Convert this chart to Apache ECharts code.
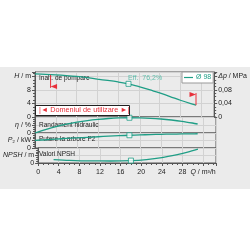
<!DOCTYPE html>
<html><head><meta charset="utf-8">
<script src="https://cdn.jsdelivr.net/npm/echarts@6/dist/echarts.min.js"></script>
<style>html,body{margin:0;padding:0;background:#fff}#c{width:250px;height:250px}</style>
</head><body><div id="c"></div>
<script>
// ---- data ----
const flowQ   = [0, 2, 4, 6, 8, 10, 12, 14, 16, 18, 20, 22, 24, 26, 28, 30, 31];
const headH   = [12.75, 12.62, 12.45, 12.25, 12.0, 11.65, 11.2, 10.8, 10.35, 9.8, 9.0, 8.1, 7.1, 6.05, 4.95, 3.95, 3.5];
const effEta  = [0, 17, 32, 44, 54, 62, 68, 72.5, 75.3, 76.2, 75.5, 73.5, 70, 65, 58.5, 50, 45];
const powerP2 = [0.82, 0.88, 0.95, 1.02, 1.08, 1.14, 1.2, 1.26, 1.31, 1.36, 1.4, 1.43, 1.46, 1.48, 1.5, 1.51, 1.52];
const npshFlow = [3, 6, 10, 14, 18, 21, 24, 27, 29, 31];
const npshM    = [2.3, 1.8, 1.4, 1.35, 1.6, 2.3, 3.6, 5.6, 7.2, 9.2];
const bepFlow = 18;
const bepLabel = 'Eff.  76,2%';
const rangeFlow = [3, 31];
const rangePoleFrom = [12.45, 3.5];
const rangePoleTo   = [8.6, 7.1];
const seriesName = 'Ø 98';
const captions = ['Inalt. de pompare', 'Randament hidraulic', 'Putere la arbore P2', 'Valori NPSH'];
const domainText = 'Domeniul de utilizare';

// ---- chart ----
const TEAL = '#1f9e86', RED = '#e8303a', FONT = 'Liberation Sans, Arial, sans-serif';
const zip = (a, b) => a.map((v, i) => [v, b[i]]);
const bi = flowQ.indexOf(bepFlow), ni = npshFlow.indexOf(bepFlow);
const chart = echarts.init(document.getElementById('c'));

const panels = [{top: 72, height: 45}, {top: 117, height: 16}, {top: 133, height: 15}, {top: 148, height: 15}];
const grid = panels.map(p => ({left: 35, right: 34, top: p.top, height: p.height, show: true,
  borderColor: '#555', borderWidth: 1, backgroundColor: 'transparent'}));
const rich = {i: {fontStyle: 'italic', fontSize: 7, color: '#222', fontFamily: FONT}};
const lbl = {fontSize: 7, color: '#222', fontFamily: FONT, rich};

const xAxis = panels.map((p, i) => ({
  type: 'value', gridIndex: i, min: 0, max: 34.5, interval: 4,
  splitLine: {show: true, lineStyle: {color: '#d2d2d2', width: 1}},
  axisLine: {show: i === 3, lineStyle: {color: '#555'}},
  axisTick: {show: i === 3, length: 3, lineStyle: {color: '#555'}},
  minorTick: {show: i === 3, splitNumber: 4, length: 2, lineStyle: {color: '#555'}},
  axisLabel: Object.assign({show: i === 3, margin: 6, showMaxLabel: false,
    formatter: v => v === 32 ? '{i|Q} / m³/h' : (v > 32 ? '' : String(v))}, lbl)
}));

function leftY(gi, max, interval, labelAt, name) {
  return {type: 'value', gridIndex: gi, position: 'left', min: 0, max, interval,
    axisLine: {show: true, lineStyle: {color: '#555'}},
    axisTick: {show: true, length: 3, lineStyle: {color: '#555'}},
    minorTick: {show: true, splitNumber: 4, length: 2, lineStyle: {color: '#555'}},
    splitLine: {show: true, lineStyle: {color: '#d2d2d2'}},
    axisLabel: Object.assign({margin: 4, showMaxLabel: false,
      formatter: v => Math.abs(v - labelAt) < 1e-6 ? name : (v === 0 ? '0' : (v > labelAt ? '' : String(v)))}, lbl)};
}
const yAxis = [
  leftY(0, 13.3, 4, 12, '{i|H} / m'),
  {type: 'value', gridIndex: 0, position: 'right', min: 0, max: 0.133, interval: 0.04,
    axisLine: {show: true, lineStyle: {color: '#555'}},
    axisTick: {show: true, length: 3, lineStyle: {color: '#555'}},
    minorTick: {show: true, splitNumber: 4, length: 2, lineStyle: {color: '#555'}},
    splitLine: {show: false},
    axisLabel: Object.assign({margin: 4, showMaxLabel: false,
      formatter: v => Math.abs(v - 0.12) < 1e-6 ? '{i|Δp} / MPa' : (v === 0 ? '0' : (v > 0.12 ? '' : v.toFixed(2).replace('.', ',')))}, lbl)},
  leftY(1, 80, 40, 40, '{i|η} / %'),
  leftY(2, 1.6, 0.8, 0.8, '{i|P}₂ / kW'),
  leftY(3, 10, 5, 5, '{i|NPSH} / m')
];

const lineS = (name, xi, yi, data, w) => ({type: 'line', name, xAxisIndex: xi, yAxisIndex: yi, data,
  symbol: 'none', smooth: 0.3, lineStyle: {color: TEAL, width: w}, itemStyle: {color: TEAL}, z: 3});
const bepS = (xi, yi, val, label) => ({type: 'scatter', xAxisIndex: xi, yAxisIndex: yi, data: [[bepFlow, val]],
  symbol: 'rect', symbolSize: 5, itemStyle: {color: '#fff', borderColor: TEAL, borderWidth: 1}, z: 5,
  label: label ? {show: true, formatter: label, position: [2.5, -2.5], align: 'left', verticalAlign: 'middle',
    color: '#3db49c', fontSize: 7, fontFamily: FONT} : {show: false}});

const series = [
  lineS(seriesName, 0, 0, zip(flowQ, headH), 1.3),
  bepS(0, 0, headH[bi], bepLabel),
  lineS('eta', 1, 2, zip(flowQ, effEta), 1.3),
  bepS(1, 2, effEta[bi]),
  lineS('p2', 2, 3, zip(flowQ, powerP2), 1.3),
  bepS(2, 3, powerP2[bi]),
  lineS('npsh', 3, 4, zip(npshFlow, npshM), 1.3),
  bepS(3, 4, npshM[ni]),
  {type: 'custom', xAxisIndex: 0, yAxisIndex: 0, z: 6,
    data: rangeFlow.map((q, i) => [q, rangePoleFrom[i], rangePoleTo[i], i === 0 ? 1 : -1]),
    renderItem: (params, api) => {
      const p1 = api.coord([api.value(0), api.value(1)]);
      const p2 = api.coord([api.value(0), api.value(2)]);
      const dir = api.value(3);
      const c = p2[1] + 1.5 * Math.sign(p1[1] - p2[1]);
      return {type: 'group', children: [
        {type: 'line', shape: {x1: p1[0], y1: p1[1], x2: p2[0], y2: p2[1]}, style: {stroke: RED, lineWidth: 1}},
        {type: 'polygon', shape: {points: [[p2[0], c], [p2[0] + 6.5 * dir, c - 2.5], [p2[0] + 6.5 * dir, c + 2.5]]}, style: {fill: RED}}
      ]};
    }}
];

const capY = [79, 126, 139.5, 155];
const graphic = [
  {type: 'rect', z: -100, silent: true, shape: {x: 0, y: 67, width: 250, height: 122}, style: {fill: '#ebebeb'}},
  ...captions.map((t, i) => ({type: 'text', z: 1, left: 39, top: capY[i] - 4,
    style: {text: t, fill: '#222', font: '6.5px ' + FONT}})),
  {type: 'rect', z: 50, shape: {x: 35.5, y: 105.5, width: 94, height: 10}, style: {fill: '#fff', stroke: '#222', lineWidth: 1}},
  {type: 'text', z: 51, left: 39, top: 106.5,
    style: {text: '|◄ ' + domainText + ' ►|', fill: RED, font: '7.3px ' + FONT}}
];

chart.setOption({
  animation: false, backgroundColor: 'transparent', textStyle: {fontFamily: FONT},
  grid, xAxis, yAxis, series, graphic,
  legend: {data: [seriesName], left: 182, top: 72, icon: 'rect', itemWidth: 9, itemHeight: 1.2, itemGap: 2,
    padding: [2, 2], backgroundColor: '#fff', borderColor: '#999', borderWidth: 1, borderRadius: 0,
    textStyle: {color: TEAL, fontSize: 7, fontFamily: FONT, padding: [0, 0, 0, -2]}}
});
</script></body></html>
